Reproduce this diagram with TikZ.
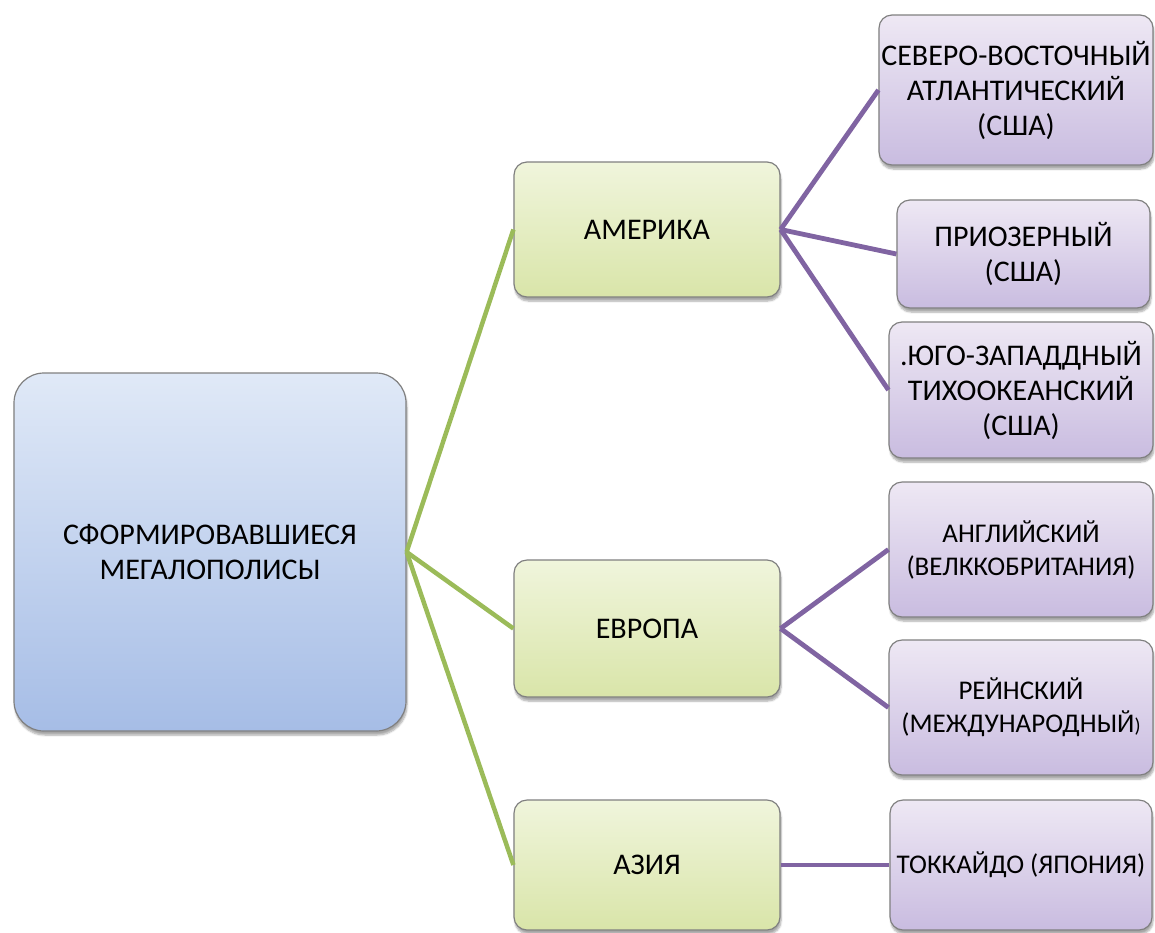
\documentclass[tikz,border=0pt]{standalone}
\usepackage{fontspec}
\setmainfont{Carlito}
\usetikzlibrary{shadows.blur}

\tikzset{
  box/.style={rectangle, draw=black!50, line width=1.2pt, align=center,
    inner sep=2pt, font=\fontsize{30}{35}\selectfont,
    blur shadow={shadow xshift=1pt, shadow yshift=-4pt, shadow blur steps=6, shadow opacity=35}},
  rootbox/.style={box, rounded corners=30pt, top color=bluetop, bottom color=bluebot},
  regionbox/.style={box, rounded corners=13pt, top color=greentop, bottom color=greenbot},
  leafbox/.style={box, rounded corners=13pt, top color=purpletop, bottom color=purplebot},
  smalltext/.style={font=\fontsize{27}{33}\selectfont},
  greenlink/.style={draw=greenline, line width=4.5pt},
  purplelink/.style={draw=purpleline, line width=4.8pt}
}
\definecolor{bluetop}{HTML}{E0E9F7}
\definecolor{bluebot}{HTML}{A6BDE6}
\definecolor{greentop}{HTML}{F0F5DC}
\definecolor{greenbot}{HTML}{D9E5A9}
\definecolor{purpletop}{HTML}{EEE8F4}
\definecolor{purplebot}{HTML}{C9BCE0}
\definecolor{greenline}{HTML}{9BBB59}
\definecolor{purpleline}{HTML}{8064A2}

\begin{document}
\begin{tikzpicture}[x=1pt, y=-1pt]
\useasboundingbox (0,0) rectangle (1155,932);

% root
\node[rootbox, minimum width=392pt, minimum height=358pt] (root) at (210,552)
  {СФОРМИРОВАВШИЕСЯ\\МЕГАЛОПОЛИСЫ};

% continents
\node[regionbox, minimum width=266pt, minimum height=135pt] (am) at (647,229.5) {АМЕРИКА};
\node[regionbox, minimum width=266pt, minimum height=137pt] (eu) at (647,628.5) {ЕВРОПА};
\node[regionbox, minimum width=266pt, minimum height=130pt] (as) at (647,865) {АЗИЯ};

% megalopolises
\node[leafbox, minimum width=274pt, minimum height=150pt] (ne) at (1016,90)
  {СЕВЕРО-ВОСТОЧНЫЙ\\АТЛАНТИЧЕСКИЙ\\(США)};
\node[leafbox, minimum width=253pt, minimum height=108pt] (lake) at (1023.5,254)
  {ПРИОЗЕРНЫЙ\\(США)};
\node[leafbox, minimum width=264pt, minimum height=136pt] (sw) at (1021,390)
  {.ЮГО-ЗАПАДДНЫЙ\\ТИХООКЕАНСКИЙ\\(США)};
\node[leafbox, smalltext, minimum width=264pt, minimum height=135pt] (eng) at (1021,549.5)
  {АНГЛИЙСКИЙ\\(ВЕЛККОБРИТАНИЯ)};
\node[leafbox, smalltext, minimum width=264pt, minimum height=135pt] (rh) at (1021,707.5)
  {РЕЙНСКИЙ\\(МЕЖДУНАРОДНЫЙ{\fontsize{20}{20}\selectfont)}};
\node[leafbox, smalltext, minimum width=262pt, minimum height=130pt] (tok) at (1021,865)
  {ТОККАЙДО (ЯПОНИЯ)};

% connectors
\path[greenlink] (root.east) -- (am.west);
\path[greenlink] (root.east) -- (eu.west);
\path[greenlink] (root.east) -- (as.west);
\path[purplelink] (am.east) -- (ne.west);
\path[purplelink] (am.east) -- (lake.west);
\path[purplelink] (am.east) -- (sw.west);
\path[purplelink] (eu.east) -- (eng.west);
\path[purplelink] (eu.east) -- (rh.west);
\path[purplelink] (as.east) -- (tok.west);
\end{tikzpicture}
\end{document}
